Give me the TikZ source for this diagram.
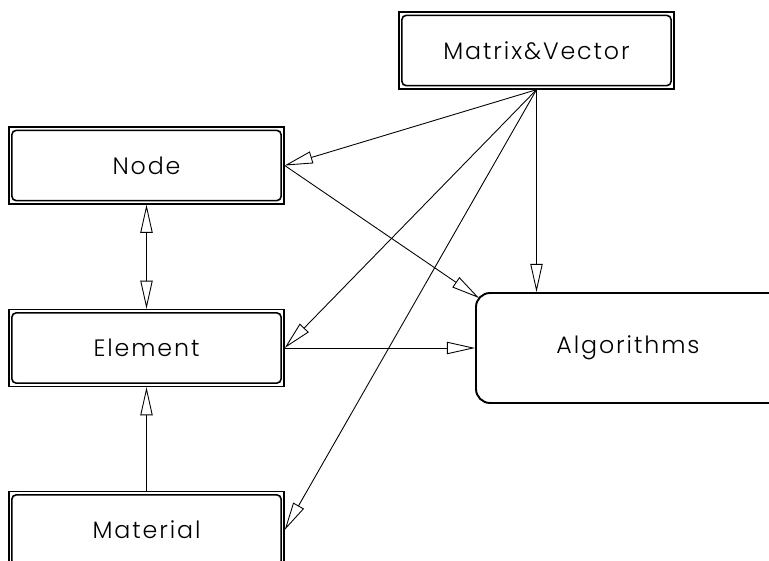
\documentclass[tikz,border=0pt]{standalone}
\usepackage{fontspec}
\setmainfont{Poppins}[UprightFont=* Light, LetterSpace=8]
\usetikzlibrary{arrows.meta}

\tikzset{
  % class box: sharp outer frame with a rounded inner frame
  classbox/.style={
    draw, line width=0.8pt, rectangle,
    minimum width=275*0.02cm, minimum height=77*0.02cm,
    inner sep=0pt, font=\fontsize{13.5}{16}\selectfont,
    append after command={
      \pgfextra{
        \draw[line width=0.9pt, rounded corners=2.6pt]
          ([shift={(3.5,-4)}]\tikzlastnode.south west) rectangle
          ([shift={(-3.5,4)}]\tikzlastnode.north east);
      }
    }
  },
  algbox/.style={
    draw, line width=1.1pt, rectangle, rounded corners=8pt,
    minimum width=360*0.02cm, minimum height=110*0.02cm,
    inner sep=0pt
  },
  link/.style={line width=0.5pt,
    -{Triangle[open, length=16pt, width=7pt]}},
  biplink/.style={line width=0.5pt,
    {Triangle[open, length=16pt, width=7pt]}-{Triangle[open, length=16pt, width=7pt]}}
}

\begin{document}
\begin{tikzpicture}[x=0.02cm, y=-0.02cm]
  \useasboundingbox (0,0) rectangle (769,561);
  \clip (0,0) rectangle (769,561);

  % boxes
  \node[classbox] (mv)   at (536.5, 50.5) {Matrix\&Vector};
  \node[classbox] (nd)   at (146.5,165.5) {Node};
  \node[classbox] (el)   at (146.5,348)   {Element};
  \node[classbox] (mat)  at (146.5,530)   {Material};
  \node[algbox] (alg) at (656,348) {};
  \node[font=\fontsize{13.5}{16}\selectfont] (algtxt) at (628,348) {Algorithms};

  % dependencies from Matrix&Vector
  \draw[link] (mv.south) -- (nd.east);
  \draw[link] (mv.south) -- (mv.south |- alg.north);
  \draw[link] (mv.south) -- (el.east);
  \draw[link] (mv.south) -- (mat.east);

  % dependencies into Algorithms
  \coordinate (algcorner) at ([shift={(4,6)}]alg.north west);
  \draw[link] (nd.east) -- (algcorner);
  \draw[link] (el.east) -- (alg.west);

  % links between the class boxes
  \draw[biplink] (nd.south) -- (el.north);
  \draw[link] (mat.north) -- (el.south);
\end{tikzpicture}
\end{document}
